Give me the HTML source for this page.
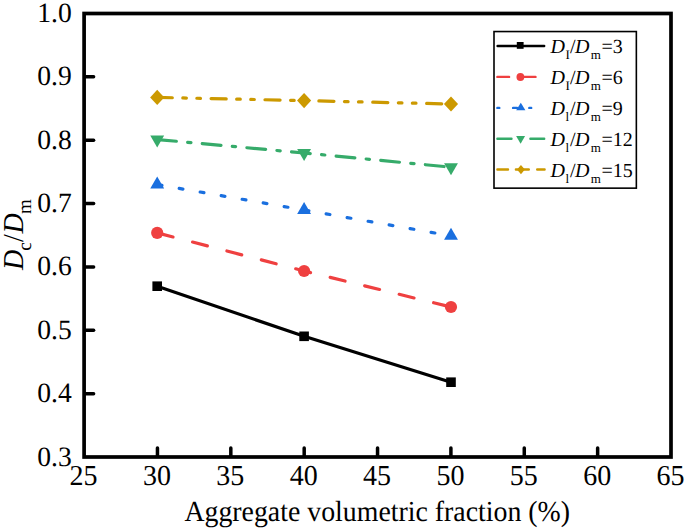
<!DOCTYPE html>
<html><head><meta charset="utf-8">
<style>
html,body{margin:0;padding:0;background:#fff;overflow:hidden;}
svg{display:block;}
text{font-family:"Liberation Serif",serif;fill:#000;text-rendering:geometricPrecision;}
.i{font-style:italic;}
</style></head><body>
<svg width="685" height="529" viewBox="0 0 685 529">
<g fill="none" stroke-width="3.20">
  <polyline points="157.2,286.2 304.1,336.3 451.0,382.2" stroke="#000" stroke-linejoin="round"/>
  <polyline points="157.2,232.9 304.1,271.0 451.0,307.0" stroke="#EF4040" stroke-dasharray="15.3,20.22" stroke-dashoffset="-1.00" stroke-linecap="round"/>
  <polyline points="157.2,184.6 304.1,210.0 451.0,235.8" stroke="#1A6FDF" stroke-dasharray="3.8,17.51" stroke-dashoffset="-1.00" stroke-linecap="round"/>
  <polyline points="157.2,139.5 304.1,153.0 451.0,167.2" stroke="#36AB6A" stroke-dasharray="18.8,11.36,3.3,11.36" stroke-dashoffset="-0.43" stroke-linecap="round"/>
  <polyline points="157.2,97.4 304.1,100.6 451.0,104.0" stroke="#CC9900" stroke-dasharray="15.1,10.5,3.6,10.45,3.6,10.65" stroke-dashoffset="0.00" stroke-linecap="round"/>
</g>
<g fill="#000"><rect x="152.40" y="281.40" width="9.60" height="9.60"/><rect x="299.30" y="331.50" width="9.60" height="9.60"/><rect x="446.20" y="377.40" width="9.60" height="9.60"/></g>
<g fill="#EF4040"><circle cx="157.20" cy="232.90" r="6.10"/><circle cx="304.10" cy="271.00" r="6.10"/><circle cx="451.00" cy="307.00" r="6.10"/></g>
<g fill="#1A6FDF"><path d="M157.20,176.60 L164.15,188.60 L150.25,188.60Z"/><path d="M304.10,202.00 L311.05,214.00 L297.15,214.00Z"/><path d="M451.00,227.80 L457.95,239.80 L444.05,239.80Z"/></g>
<g fill="#36AB6A"><path d="M157.20,147.50 L164.15,135.50 L150.25,135.50Z"/><path d="M304.10,161.00 L311.05,149.00 L297.15,149.00Z"/><path d="M451.00,175.20 L457.95,163.20 L444.05,163.20Z"/></g>
<g fill="#CC9900"><path d="M157.20,89.80 L164.25,97.40 L157.20,105.00 L150.15,97.40Z"/><path d="M304.10,93.00 L311.15,100.60 L304.10,108.20 L297.05,100.60Z"/><path d="M451.00,96.40 L458.05,104.00 L451.00,111.60 L443.95,104.00Z"/></g>
<rect x="84.10" y="13.50" width="586.90" height="443.50" fill="none" stroke="#000" stroke-width="3.7"/>
<g stroke="#000" stroke-width="3.5" stroke-linecap="round">
  <line x1="85.90" y1="76.86" x2="93.6" y2="76.86"/>
  <line x1="85.90" y1="140.21" x2="93.6" y2="140.21"/>
  <line x1="85.90" y1="203.57" x2="93.6" y2="203.57"/>
  <line x1="85.90" y1="266.93" x2="93.6" y2="266.93"/>
  <line x1="85.90" y1="330.29" x2="93.6" y2="330.29"/>
  <line x1="85.90" y1="393.64" x2="93.6" y2="393.64"/>
  <line x1="157.46" y1="455.20" x2="157.46" y2="447.9"/>
  <line x1="230.82" y1="455.20" x2="230.82" y2="447.9"/>
  <line x1="304.19" y1="455.20" x2="304.19" y2="447.9"/>
  <line x1="377.55" y1="455.20" x2="377.55" y2="447.9"/>
  <line x1="450.91" y1="455.20" x2="450.91" y2="447.9"/>
  <line x1="524.27" y1="455.20" x2="524.27" y2="447.9"/>
  <line x1="597.64" y1="455.20" x2="597.64" y2="447.9"/>
</g>
<g font-size="28" text-anchor="end">
  <text transform="translate(71.7,22.00) scale(0.985,1.000)">1.0</text>
  <text transform="translate(71.7,85.36) scale(0.985,1.000)">0.9</text>
  <text transform="translate(71.7,148.71) scale(0.985,1.000)">0.8</text>
  <text transform="translate(71.7,212.07) scale(0.985,1.000)">0.7</text>
  <text transform="translate(71.7,275.43) scale(0.985,1.000)">0.6</text>
  <text transform="translate(71.7,338.79) scale(0.985,1.000)">0.5</text>
  <text transform="translate(71.7,402.14) scale(0.985,1.000)">0.4</text>
  <text transform="translate(71.7,465.50) scale(0.985,1.000)">0.3</text>
</g>
<g font-size="28" text-anchor="middle">
  <text transform="translate(83.60,484.9) scale(1,1.03)">25</text>
  <text transform="translate(156.96,484.9) scale(1,1.03)">30</text>
  <text transform="translate(230.32,484.9) scale(1,1.03)">35</text>
  <text transform="translate(303.69,484.9) scale(1,1.03)">40</text>
  <text transform="translate(377.05,484.9) scale(1,1.03)">45</text>
  <text transform="translate(450.41,484.9) scale(1,1.03)">50</text>
  <text transform="translate(523.77,484.9) scale(1,1.03)">55</text>
  <text transform="translate(597.14,484.9) scale(1,1.03)">60</text>
  <text transform="translate(670.50,484.9) scale(1,1.03)">65</text>
</g>
<text transform="translate(377.2,520.8) scale(0.994,1.04)" font-size="28" text-anchor="middle">Aggregate volumetric fraction (%)</text>
<g transform="translate(23.0,270.5) rotate(-90) scale(1,1.03)"><text font-size="28"><tspan class="i" x="0.4" y="0">D</tspan><tspan font-size="19" x="19.7" y="8.2">c</tspan><tspan x="28.6" y="0">/</tspan><tspan class="i" x="37.0" y="0">D</tspan><tspan font-size="19" x="56.4" y="8.2">m</tspan></text></g>
<rect x="494.0" y="31.55" width="142.35" height="156.6" fill="none" stroke="#000" stroke-width="1.6"/>
<text font-size="20"><tspan class="i" x="550.4" y="53.4">D</tspan><tspan font-size="13" x="565.4" y="59.4">I</tspan><tspan x="570.0" y="53.4">/</tspan><tspan class="i" x="574.9" y="53.4">D</tspan><tspan font-size="13" x="590.7" y="59.4">m</tspan><tspan x="601.45" y="53.4">=3</tspan></text>
<text font-size="20"><tspan class="i" x="550.4" y="84.3">D</tspan><tspan font-size="13" x="565.4" y="90.3">I</tspan><tspan x="570.0" y="84.3">/</tspan><tspan class="i" x="574.9" y="84.3">D</tspan><tspan font-size="13" x="590.7" y="90.3">m</tspan><tspan x="601.45" y="84.3">=6</tspan></text>
<text font-size="20"><tspan class="i" x="550.4" y="115.2">D</tspan><tspan font-size="13" x="565.4" y="121.2">l</tspan><tspan x="570.0" y="115.2">/</tspan><tspan class="i" x="574.9" y="115.2">D</tspan><tspan font-size="13" x="590.7" y="121.2">m</tspan><tspan x="601.45" y="115.2">=9</tspan></text>
<text font-size="20"><tspan class="i" x="550.4" y="146.1">D</tspan><tspan font-size="13" x="565.4" y="152.1">l</tspan><tspan x="570.0" y="146.1">/</tspan><tspan class="i" x="574.9" y="146.1">D</tspan><tspan font-size="13" x="590.7" y="152.1">m</tspan><tspan x="601.45" y="146.1">=12</tspan></text>
<text font-size="20"><tspan class="i" x="550.4" y="177.0">D</tspan><tspan font-size="13" x="565.4" y="183.0">l</tspan><tspan x="570.0" y="177.0">/</tspan><tspan class="i" x="574.9" y="177.0">D</tspan><tspan font-size="13" x="590.7" y="183.0">m</tspan><tspan x="601.45" y="177.0">=15</tspan></text>
<g stroke-width="2.4" fill="none" stroke-linecap="round">
  <path d="M497.6,45.95H544.2" stroke="#000"/>
  <path d="M497.4,76.9H509.1M518,76.9H535.5" stroke="#EF4040"/>
  <path d="M497.4,107.9H499.3M513.1,107.9H517M529.3,107.9H531.2" stroke="#1A6FDF"/>
  <path d="M497.4,138.8H511.5M530.4,138.8H544.2" stroke="#36AB6A"/>
  <path d="M497.4,169.5H508M515.9,169.5H528.8M537.2,169.5H544.6" stroke="#CC9900"/>
</g>
<g fill="#000"><rect x="516.80" y="42.00" width="6.80" height="6.80"/></g>
<g fill="#EF4040"><circle cx="520.40" cy="77.00" r="3.90"/></g>
<g fill="#1A6FDF"><path d="M520.80,102.67 L525.40,110.37 L516.20,110.37Z"/></g>
<g fill="#36AB6A"><path d="M520.60,143.73 L525.10,136.03 L516.10,136.03Z"/></g>
<g fill="#CC9900"><path d="M520.95,165.00 L524.85,169.60 L520.95,174.20 L517.05,169.60Z"/></g>
</svg>
</body></html>
